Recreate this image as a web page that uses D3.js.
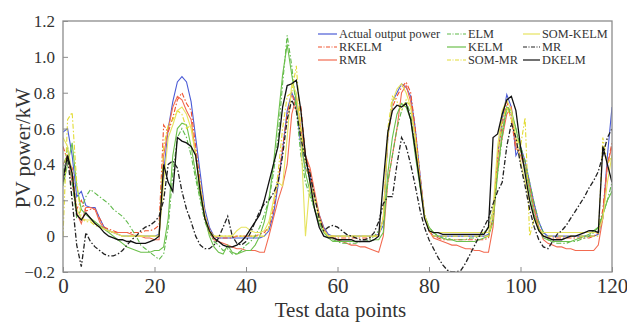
<!DOCTYPE html>
<html><head><meta charset="utf-8">
<script src="https://cdn.jsdelivr.net/npm/d3@7"></script>
<style>body{margin:0;background:#fff}svg{display:block}</style>
</head><body><svg id="c" width="627" height="324"></svg>
<script>
const xTicks = [0, 20, 40, 60, 80, 100, 120];
const yTicks = [-0.2, 0, 0.2, 0.4, 0.6, 0.8, 1.0, 1.2];
const yTickLabels = ["−0.2", "0", "0.2", "0.4", "0.6", "0.8", "1.0", "1.2"];
const seriesNames = ["Actual output power", "RKELM", "RMR", "ELM", "KELM", "SOM-MR", "SOM-KELM", "MR", "DKELM"];

const actual = [
0.58,0.60,0.45,0.22,0.25,0.17,0.16,0.16,0.10,0.05,
0.03,0.02,0.01,0.00,0.00,0.00,0.00,0.00,0.00,0.00,
0.00,0.01,0.35,0.60,0.75,0.86,0.89,0.86,0.75,0.55,
0.35,0.15,0.05,0.00,-0.01,-0.01,-0.01,-0.01,-0.01,-0.01,
-0.01,-0.01,-0.01,-0.01,0.00,0.03,0.12,0.28,0.48,0.70,
0.80,0.74,0.50,0.38,0.33,0.22,0.12,0.05,0.01,0.00,
0.00,0.00,0.00,0.00,0.00,0.00,0.00,0.00,0.00,0.01,
0.06,0.55,0.75,0.80,0.85,0.83,0.78,0.60,0.35,0.12,
0.03,0.00,0.00,0.00,0.00,0.00,0.00,0.00,0.00,0.00,
0.00,0.00,0.00,0.01,0.10,0.45,0.65,0.79,0.72,0.45,
0.50,0.42,0.30,0.18,0.08,0.02,0.00,0.00,0.00,0.00,
0.00,0.00,0.00,0.00,0.00,0.00,0.00,0.01,0.10,0.45,
0.72];
const rkelm = [
0.50,0.42,0.38,0.15,0.20,0.14,0.15,0.15,0.10,0.05,
0.04,0.03,0.02,0.02,0.02,0.02,0.02,0.02,0.03,0.03,
0.04,0.06,0.62,0.58,0.66,0.76,0.80,0.74,0.70,0.50,
0.30,0.12,0.04,0.00,-0.01,-0.01,-0.01,-0.01,0.00,0.00,
0.00,0.00,0.00,0.01,0.02,0.05,0.15,0.30,0.50,0.68,
0.80,0.70,0.72,0.45,0.35,0.22,0.10,0.03,0.00,0.00,
-0.01,-0.01,-0.01,-0.01,-0.01,-0.01,-0.01,-0.01,0.00,0.01,
0.10,0.55,0.72,0.78,0.83,0.86,0.80,0.60,0.35,0.12,
0.03,0.00,-0.01,-0.02,-0.02,-0.02,-0.02,-0.02,-0.02,-0.02,
-0.02,-0.02,-0.02,-0.01,0.10,0.45,0.62,0.75,0.65,0.48,
0.48,0.40,0.28,0.15,0.05,0.00,-0.01,-0.01,-0.01,-0.01,
-0.01,-0.01,-0.01,-0.01,-0.01,-0.01,0.00,0.02,0.15,0.40,
0.52];
const rmr = [
0.40,0.45,0.30,0.13,0.07,0.16,0.16,0.15,0.08,0.04,
0.03,0.02,0.02,0.02,0.02,0.01,0.00,0.00,-0.01,-0.01,
-0.02,-0.02,0.45,0.60,0.72,0.78,0.76,0.70,0.65,0.45,
0.25,0.10,0.02,-0.02,-0.03,-0.04,-0.05,-0.06,-0.07,-0.07,
-0.08,-0.08,-0.08,-0.09,-0.09,0.00,0.10,0.20,0.28,0.40,
0.68,0.78,0.60,0.45,0.38,0.25,0.12,0.04,0.00,-0.01,
-0.02,-0.03,-0.04,-0.05,-0.05,-0.06,-0.06,-0.07,-0.08,-0.09,
0.00,0.30,0.45,0.60,0.80,0.84,0.75,0.55,0.30,0.12,
0.03,-0.01,-0.02,-0.03,-0.04,-0.05,-0.05,-0.06,-0.07,-0.07,
-0.08,-0.08,-0.09,-0.09,0.05,0.40,0.55,0.68,0.72,0.50,
0.45,0.38,0.28,0.15,0.05,-0.02,-0.04,-0.05,-0.06,-0.06,
-0.07,-0.07,-0.08,-0.08,-0.08,-0.08,-0.08,-0.05,0.10,0.40,
0.50];
const elm = [
0.35,0.50,0.30,0.10,0.15,0.22,0.26,0.24,0.22,0.20,
0.18,0.15,0.13,0.11,0.08,0.04,0.00,-0.05,-0.07,-0.09,
-0.11,-0.13,-0.10,0.05,0.35,0.55,0.60,0.55,0.45,0.32,
0.20,0.08,0.02,-0.03,-0.05,-0.08,-0.07,-0.10,-0.10,-0.08,
-0.05,-0.03,0.00,0.05,0.12,0.20,0.35,0.55,0.85,1.12,
0.95,0.70,0.45,0.30,0.22,0.15,0.08,0.03,0.00,-0.02,
-0.03,-0.04,-0.04,-0.04,-0.04,-0.03,-0.03,-0.02,0.00,0.03,
0.08,0.30,0.45,0.60,0.70,0.75,0.68,0.50,0.30,0.12,
0.05,0.02,0.00,-0.01,-0.01,-0.02,-0.02,-0.02,-0.02,-0.01,
-0.01,0.00,0.02,0.05,0.15,0.35,0.55,0.72,0.68,0.60,
0.50,0.42,0.30,0.18,0.08,0.02,-0.02,-0.03,-0.04,-0.04,
-0.04,-0.03,-0.03,-0.02,-0.01,0.00,0.02,0.05,0.12,0.20,
0.30];
const kelm = [
0.28,0.40,0.52,0.28,0.15,0.12,0.10,0.08,0.06,0.04,
0.02,0.00,-0.02,-0.04,-0.06,-0.07,-0.08,-0.09,-0.09,-0.09,
-0.08,-0.08,-0.06,0.10,0.45,0.60,0.63,0.62,0.50,0.35,
0.22,0.10,0.00,-0.06,-0.09,-0.10,-0.05,-0.09,-0.10,-0.09,
-0.08,-0.08,-0.05,0.00,0.08,0.20,0.40,0.65,0.90,1.07,
0.90,0.75,0.55,0.35,0.25,0.15,0.07,0.02,-0.01,-0.03,
-0.03,-0.03,-0.03,-0.03,-0.03,-0.03,-0.03,-0.03,-0.02,-0.02,
0.02,0.35,0.55,0.68,0.74,0.72,0.65,0.45,0.28,0.12,
0.05,0.02,0.00,-0.01,-0.02,-0.02,-0.03,-0.03,-0.03,-0.03,
-0.03,-0.02,-0.01,0.00,0.08,0.35,0.58,0.72,0.70,0.60,
0.48,0.38,0.25,0.12,0.04,-0.01,-0.02,-0.03,-0.03,-0.03,
-0.03,-0.03,-0.02,-0.01,0.00,0.01,0.03,0.05,0.12,0.20,
0.25];
const sommr = [
0.00,0.65,0.69,0.30,0.10,0.08,0.08,0.06,0.05,0.04,
0.03,0.02,0.01,0.00,0.00,0.00,0.00,0.00,0.00,0.00,
0.00,0.00,0.50,0.62,0.65,0.70,0.68,0.60,0.62,0.45,
0.25,0.10,0.02,0.00,0.00,0.00,0.00,0.00,0.00,0.00,
0.00,0.00,0.00,0.00,0.00,0.05,0.18,0.35,0.60,0.78,
0.80,0.95,0.60,0.40,0.30,0.20,0.10,0.03,0.00,0.00,
0.00,0.00,0.00,0.00,0.00,0.00,0.00,0.00,0.00,0.00,
0.10,0.60,0.78,0.75,0.70,0.76,0.72,0.55,0.32,0.12,
0.03,0.00,0.00,0.00,0.00,0.00,0.00,0.00,0.00,0.00,
0.00,0.00,0.00,0.00,0.10,0.45,0.65,0.72,0.65,0.55,
0.50,0.66,0.00,0.10,0.05,0.00,0.00,0.00,0.00,0.00,
0.00,0.00,0.00,0.00,0.00,0.00,0.00,0.00,0.55,0.40,
0.45];
const somkelm = [
0.55,0.50,0.35,0.15,0.10,0.09,0.09,0.07,0.05,0.04,
0.03,0.02,0.01,0.00,0.00,0.00,0.00,0.00,0.00,0.00,
0.00,0.00,0.30,0.55,0.62,0.70,0.72,0.68,0.60,0.45,
0.28,0.12,0.03,0.00,0.00,0.00,0.00,0.00,0.03,0.05,
0.05,0.03,0.02,0.02,0.03,0.08,0.20,0.30,0.28,0.55,
0.85,0.80,0.55,0.00,0.30,0.22,0.10,0.03,0.00,0.00,
0.00,0.00,0.00,0.00,0.00,0.00,0.00,0.00,0.00,0.00,
0.10,0.55,0.75,0.82,0.85,0.80,0.72,0.55,0.32,0.12,
0.03,0.02,0.02,0.02,0.02,0.02,0.02,0.02,0.02,0.02,
0.02,0.02,0.02,0.02,0.15,0.50,0.70,0.76,0.70,0.55,
0.42,0.30,0.20,0.10,0.03,0.02,0.02,0.02,0.02,0.02,
0.02,0.02,0.02,0.02,0.02,0.02,0.02,0.02,0.10,0.30,
0.45];
const mr = [
0.30,0.45,0.20,-0.05,-0.17,0.02,-0.03,-0.06,-0.08,-0.10,
-0.11,-0.11,-0.10,-0.08,-0.05,-0.02,0.00,0.03,0.05,0.06,
0.08,0.11,0.20,0.40,0.42,0.38,0.25,0.15,0.08,0.00,
-0.05,-0.07,-0.07,-0.05,-0.01,0.05,0.11,0.00,-0.04,-0.05,
-0.03,0.02,0.08,0.14,0.18,0.20,0.24,0.30,0.45,0.65,
0.76,0.70,0.55,0.42,0.35,0.22,0.10,0.03,0.05,0.06,
0.05,0.03,0.01,0.00,-0.01,-0.02,-0.02,-0.01,0.02,0.08,
0.18,0.22,0.22,0.40,0.55,0.50,0.40,0.28,0.15,0.05,
-0.02,-0.07,-0.12,-0.16,-0.19,-0.20,-0.20,-0.19,-0.15,-0.10,
-0.05,0.00,0.05,0.10,0.18,0.25,0.30,0.50,0.63,0.55,
0.40,0.28,0.15,0.05,-0.02,-0.06,-0.07,-0.03,0.01,0.03,
0.06,0.10,0.14,0.18,0.22,0.27,0.31,0.36,0.45,0.55,
0.60];
const dkelm = [
0.32,0.45,0.35,0.12,0.09,0.13,0.10,0.07,0.05,0.02,
0.00,-0.01,-0.02,-0.02,-0.03,-0.03,-0.04,-0.04,-0.04,-0.03,
-0.02,0.00,0.40,0.30,0.25,0.55,0.53,0.52,0.50,0.45,
0.25,0.10,0.03,-0.01,-0.03,-0.05,-0.06,-0.06,-0.05,-0.03,
0.00,0.04,0.08,0.12,0.20,0.30,0.40,0.50,0.72,0.84,
0.85,0.87,0.70,0.45,0.30,0.15,0.05,0.00,-0.01,-0.01,
-0.02,-0.02,-0.02,-0.02,-0.03,-0.03,-0.03,-0.03,-0.02,0.00,
0.30,0.58,0.70,0.73,0.72,0.74,0.65,0.48,0.30,0.10,
0.03,0.02,0.02,0.01,0.01,0.01,0.01,0.01,0.01,0.01,
0.01,0.01,0.01,0.05,0.55,0.57,0.68,0.76,0.78,0.70,
0.50,0.35,0.20,0.10,0.03,0.00,-0.01,-0.02,-0.02,-0.02,
-0.01,0.00,0.00,0.01,0.02,0.03,0.03,0.02,0.50,0.40,
0.30];

const seriesData = [actual, rkelm, rmr, elm, kelm, sommr, somkelm, mr, dkelm];
const colors = ["#4b5bd6", "#f0502d", "#f26a50", "#5fb94a", "#6cc04c", "#e2dc34", "#e6e35e", "#222222", "#111111"];
const dashes = [null, "5,2,1.5,2", null, "5,2,1.5,2", null, "5,2,1.5,2", null, "5,2,1.5,2", null];

const FONT = "Liberation Serif, DejaVu Serif, serif";
const svg = d3.select("#c");
const L = 63, R = 612, T = 21, B = 272;
const x = d3.scaleLinear().domain([0, 120]).range([L, R]);
const y = d3.scaleLinear().domain([-0.2, 1.2]).range([B, T]);

svg.append("clipPath").attr("id", "clp").append("rect")
  .attr("x", L).attr("y", T).attr("width", R - L).attr("height", B - T);

const line = d3.line().x((d, i) => x(i)).y(d => y(d));
const plot = svg.append("g").attr("clip-path", "url(#clp)");
seriesData.forEach((s, k) => {
  plot.append("path").datum(s).attr("d", line)
    .attr("fill", "none").attr("stroke", colors[k])
    .attr("stroke-width", k >= 7 ? 1.3 : 1.1)
    .attr("stroke-dasharray", dashes[k]);
});

svg.append("rect").attr("x", L).attr("y", T).attr("width", R - L).attr("height", B - T)
  .attr("fill", "none").attr("stroke", "#8c8c8c").attr("stroke-width", 1.3);

const xAxis = d3.axisBottom(x).tickValues(xTicks).tickSizeInner(-5).tickSizeOuter(0).tickPadding(6);
const xg = svg.append("g").attr("transform", `translate(0,${B})`).call(xAxis);
xg.select(".domain").remove();
xg.selectAll("line").attr("stroke", "#8c8c8c");
xg.selectAll("text").attr("font-family", FONT).attr("font-size", 21).attr("fill", "#333");

const yAxis = d3.axisLeft(y).tickValues(yTicks).tickFormat((d, i) => yTickLabels[i]).tickSizeInner(-5).tickSizeOuter(0).tickPadding(8);
const yg = svg.append("g").attr("transform", `translate(${L},0)`).call(yAxis);
yg.select(".domain").remove();
yg.selectAll("line").attr("stroke", "#8c8c8c");
yg.selectAll("text").attr("font-family", FONT).attr("font-size", 17).attr("fill", "#333");

svg.append("text").attr("x", (L + R) / 2 + 3).attr("y", 317).attr("text-anchor", "middle")
  .attr("font-family", FONT).attr("font-size", 21).attr("fill", "#333")
  .text("Test data points");
svg.append("text").attr("transform", "translate(30,148) rotate(-90)").attr("text-anchor", "middle")
  .attr("font-family", FONT).attr("font-size", 21).attr("fill", "#333")
  .text("PV power/kW");

const colX = [318, 447, 523];
const lineLen = [19, 19, 17];
const rowY = [34, 47, 60];
seriesNames.forEach((n, k) => {
  const c = Math.floor(k / 3), r = k % 3;
  const lg = svg.append("g");
  lg.append("line").attr("x1", colX[c]).attr("x2", colX[c] + lineLen[c])
    .attr("y1", rowY[r]).attr("y2", rowY[r])
    .attr("stroke", colors[k]).attr("stroke-width", 1.2).attr("stroke-dasharray", dashes[k] ? "4,1.5,1,1.5" : null);
  lg.append("text").attr("x", colX[c] + lineLen[c] + 2).attr("y", rowY[r] + 4)
    .attr("font-family", FONT).attr("font-size", 12.3).attr("fill", "#333")
    .text(n);
});
</script>
</body></html>
